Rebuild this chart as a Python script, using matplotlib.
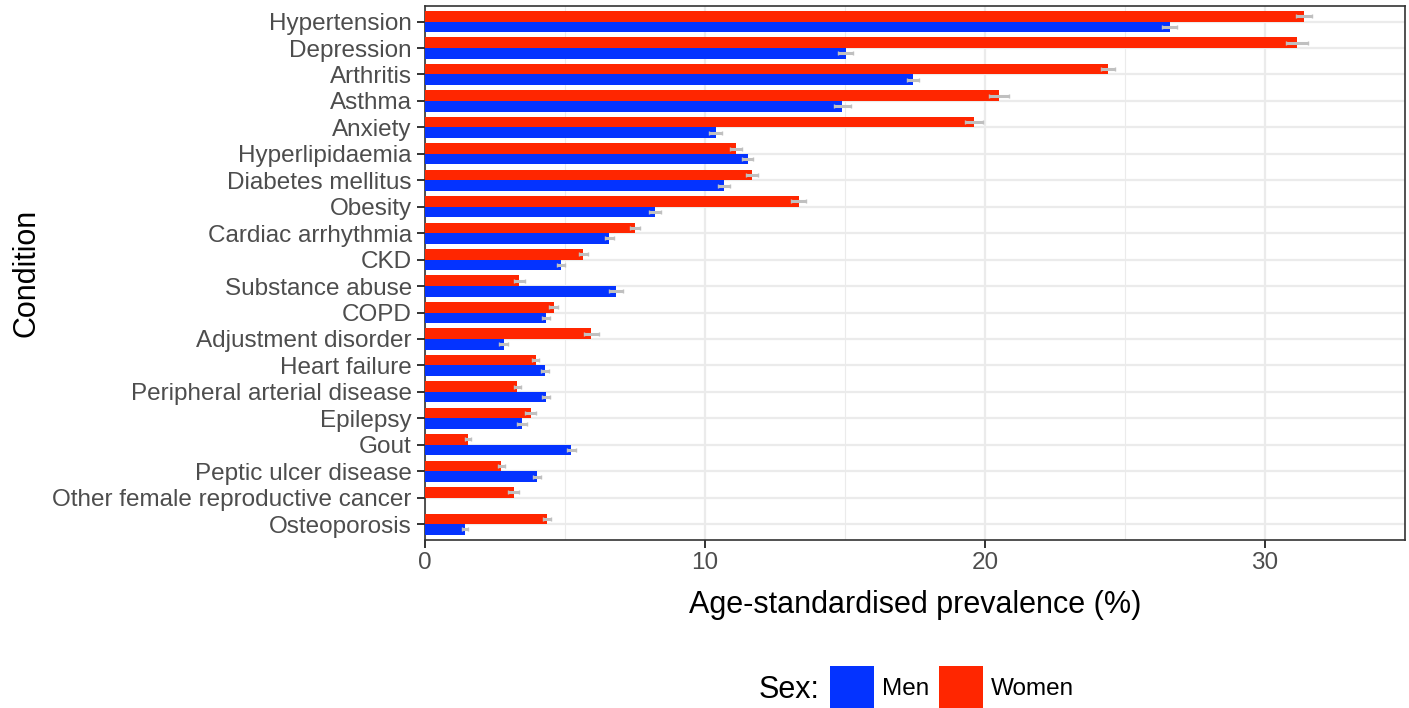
import numpy as np
import matplotlib
matplotlib.use("Agg")
import matplotlib.pyplot as plt
from matplotlib.patches import Patch

plt.rcParams['font.family'] = ['Liberation Sans', 'DejaVu Sans']

conditions = ["Hypertension", "Depression", "Arthritis", "Asthma", "Anxiety",
              "Hyperlipidaemia", "Diabetes mellitus", "Obesity", "Cardiac arrhythmia",
              "CKD", "Substance abuse", "COPD", "Adjustment disorder", "Heart failure",
              "Peripheral arterial disease", "Epilepsy", "Gout", "Peptic ulcer disease",
              "Other female reproductive cancer", "Osteoporosis"]

women = [31.39, 31.15, 24.39, 20.50, 19.60, 11.11, 11.68, 13.34, 7.51, 5.66,
         3.37, 4.59, 5.94, 3.95, 3.30, 3.78, 1.54, 2.72, 3.17, 4.35]
men = [26.60, 15.02, 17.42, 14.91, 10.38, 11.52, 10.68, 8.21, 6.58, 4.85,
       6.82, 4.33, 2.81, 4.28, 4.33, 3.46, 5.23, 3.99, np.nan, 1.43]

women_err = [0.28, 0.40, 0.25, 0.35, 0.33, 0.22, 0.23, 0.28, 0.18, 0.15,
             0.20, 0.15, 0.26, 0.13, 0.12, 0.20, 0.10, 0.13, 0.19, 0.14]
men_err = [0.27, 0.26, 0.21, 0.30, 0.24, 0.21, 0.21, 0.21, 0.16, 0.14,
           0.24, 0.14, 0.16, 0.14, 0.15, 0.19, 0.15, 0.14, np.nan, 0.12]

blue = "#0433FF"
red = "#FF2600"

fig = plt.figure(figsize=(14.09, 7.08), dpi=100)
ax = fig.add_axes([425/1409, (708-540)/708, (1405-425)/1409, (540-5.7)/708])

n = len(conditions)
ypos = np.arange(n)[::-1].astype(float)
h = 0.4
ax.barh(ypos + h/2, women, height=h, color=red, zorder=3)
ax.barh(ypos - h/2, men, height=h, color=blue, zorder=3)
ax.errorbar(women, ypos + h/2, xerr=women_err, fmt='none', ecolor='#C0C0C0',
            elinewidth=2.2, capsize=1.2, capthick=1.0, zorder=4)
ax.errorbar(men, ypos - h/2, xerr=men_err, fmt='none', ecolor='#C0C0C0',
            elinewidth=2.2, capsize=1.2, capthick=1.0, zorder=4)

ax.set_xlim(0, 35)
ax.set_ylim(-0.6, n - 0.4)
ax.set_yticks(ypos)
ax.set_yticklabels(conditions, fontsize=17.5, color='#4D4D4D')
ax.set_xticks([0, 10, 20, 30])
ax.set_xticks([5, 15, 25, 35], minor=True)
ax.tick_params(axis='x', labelsize=17.5, labelcolor='#4D4D4D', length=5.5, width=1.4,
               color='#333333', pad=3)
ax.tick_params(axis='y', length=5.5, width=1.4, color='#333333', pad=4)
ax.tick_params(axis='x', which='minor', length=0)

ax.grid(True, which='major', color='#EBEBEB', linewidth=1.6, zorder=0)
ax.grid(True, which='minor', axis='x', color='#EBEBEB', linewidth=0.8, zorder=0)
ax.set_axisbelow(True)
for s in ax.spines.values():
    s.set_color('#333333')
    s.set_linewidth(1.2)

ax.set_xlabel("Age-standardised prevalence (%)", fontsize=22, labelpad=12)
ax.set_ylabel("Condition", fontsize=22, labelpad=8)

handles = [Patch(facecolor=blue, edgecolor='none', label='Men'),
           Patch(facecolor=red, edgecolor='none', label='Women')]
leg = fig.legend(handles=handles, loc='center', ncol=2, frameon=False,
                 bbox_to_anchor=(952/1409, (708-688)/708), fontsize=17.5,
                 handlelength=1.81, handleheight=2.41, handletextpad=0.33,
                 columnspacing=0.42, borderpad=0, borderaxespad=0)
fig.text(789/1409, (708-690)/708, "Sex:", fontsize=22, ha='center', va='center')

fig.savefig("out.png", dpi=100)
